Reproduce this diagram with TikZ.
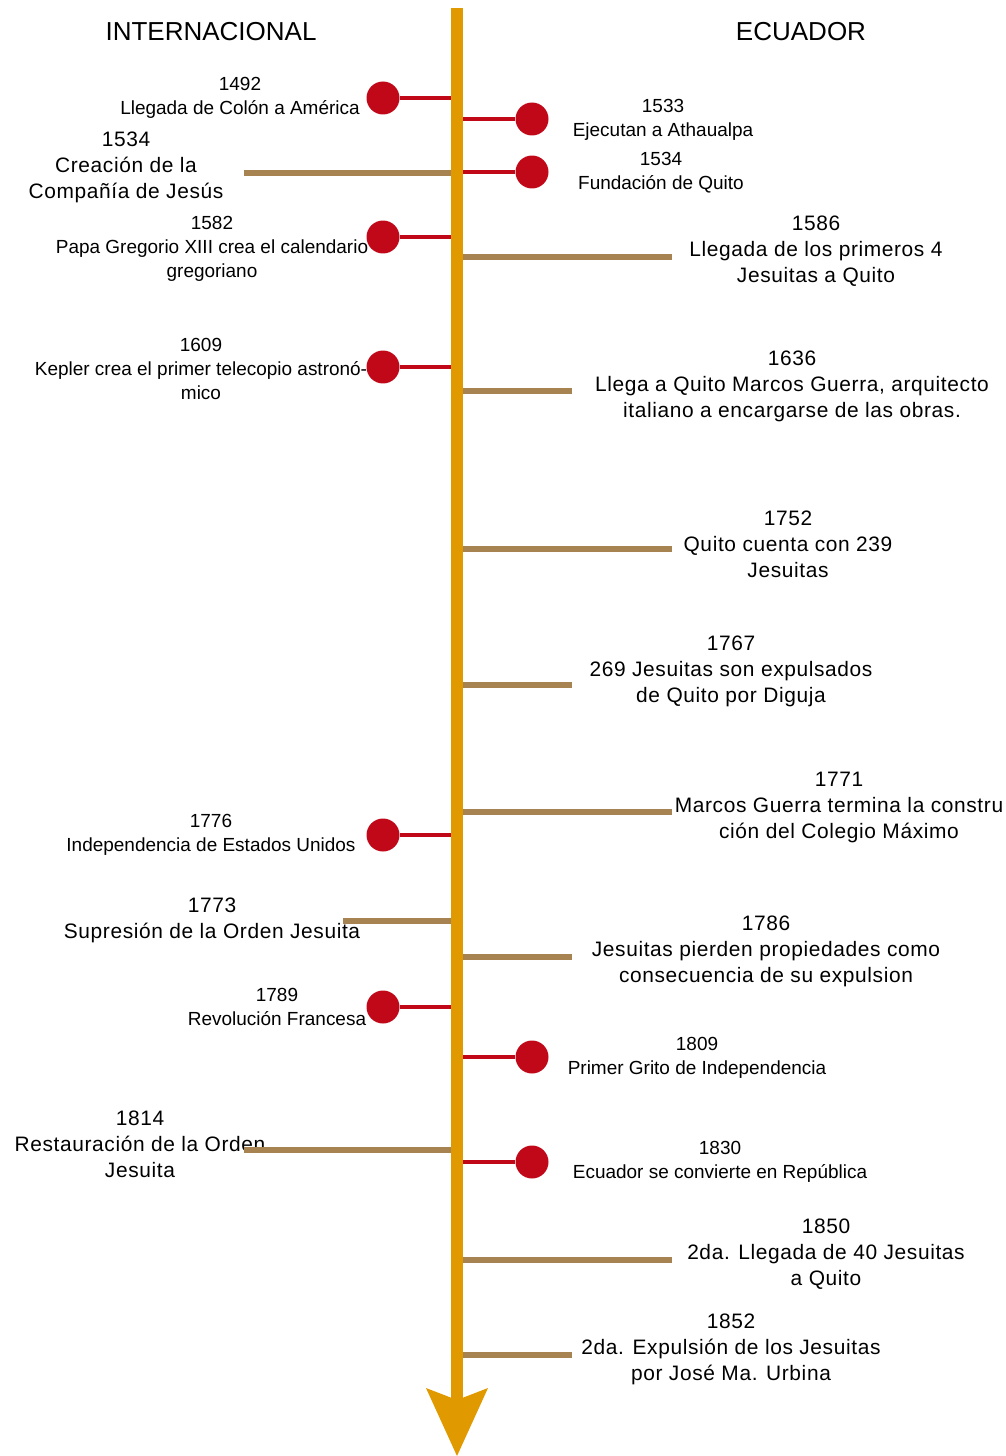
\documentclass[tikz,border=0pt]{standalone}
\usepackage{fontspec}
\setmainfont{Liberation Sans}
\newfontfamily\anchafont[LetterSpace=3]{Liberation Sans}
\usetikzlibrary{arrows.meta}
\definecolor{eje}{RGB}{224,154,0}
\definecolor{rojo}{RGB}{192,8,24}
\definecolor{cafe}{RGB}{166,131,80}

\begin{document}
\begin{tikzpicture}[x=0.02cm,y=-0.02cm,
		texto/.style={align=center,inner sep=0pt,yshift=-0.05cm,font=\fontsize{10.8}{13.7}\selectfont},
		textog/.style={align=center,inner sep=0pt,yshift=-0.05cm,font=\anchafont\fontsize{11.9}{14.8}\selectfont},
		titulo/.style={inner sep=0pt,font=\fontsize{14.8}{18}\selectfont},
		punto/.style={circle,fill=rojo,minimum size=0.66cm,inner sep=0pt},
		enlace/.style={draw=rojo,line width=2.3pt},
		barra/.style={draw=cafe,line width=3.6pt}]
	\useasboundingbox (0,0) rectangle (1006,1456);
	\node[titulo] (intl) at (211,32) {INTERNACIONAL};
	\node[titulo] (ecu) at (801,32) {ECUADOR};
	% internacional
	\node[texto] (t1492) at (240,95) {1492\\Llegada de Colón a América};
	\coordinate (e1492) at (457,98);
	\node[punto] (p1492) at (383,98) {};
	\draw[enlace] (e1492) -- (p1492);
	\node[textog] (t1534i) at (126,165) {1534\\Creación de la\\Compañía de Jesús};
	\coordinate (e1534i) at (457,173);
	\coordinate (f1534i) at (244,173);
	\draw[barra] (e1534i) -- (f1534i);
	\node[texto] (t1582) at (212,246.5) {1582\\Papa Gregorio XIII crea el calendario\\gregoriano};
	\coordinate (e1582) at (457,237);
	\node[punto] (p1582) at (383,237) {};
	\draw[enlace] (e1582) -- (p1582);
	\node[texto] (t1609) at (201,366.5) {1609\\Kepler crea el primer telecopio astronó-\\mico};
	\coordinate (e1609) at (457,367);
	\node[punto] (p1609) at (383,367) {};
	\draw[enlace] (e1609) -- (p1609);
	\node[texto] (t1776) at (211,832) {1776\\Independencia de Estados Unidos};
	\coordinate (e1776) at (457,835);
	\node[punto] (p1776) at (383,835) {};
	\draw[enlace] (e1776) -- (p1776);
	\node[textog] (t1773) at (212,917.5) {1773\\Supresión de la Orden Jesuita};
	\coordinate (e1773) at (457,921);
	\coordinate (f1773) at (343,921);
	\draw[barra] (e1773) -- (f1773);
	\node[texto] (t1789) at (277,1004) {1789\\Revolución Francesa};
	\coordinate (e1789) at (457,1007);
	\node[punto] (p1789) at (383,1007) {};
	\draw[enlace] (e1789) -- (p1789);
	\node[textog] (t1814) at (140,1142) {1814\\Restauración de la Orden\\Jesuita};
	\coordinate (e1814) at (457,1150);
	\coordinate (f1814) at (244,1150);
	\draw[barra] (e1814) -- (f1814);
	% ecuador
	\node[texto] (t1533) at (663,117) {1533\\Ejecutan a Athaualpa};
	\coordinate (e1533) at (457,119);
	\node[punto] (p1533) at (532,119) {};
	\draw[enlace] (e1533) -- (p1533);
	\node[texto] (t1534e) at (661,170) {1534\\Fundación de Quito};
	\coordinate (e1534e) at (457,172);
	\node[punto] (p1534e) at (532,172) {};
	\draw[enlace] (e1534e) -- (p1534e);
	\node[textog] (t1586) at (816,249) {1586\\Llegada de los primeros 4\\Jesuitas a Quito};
	\coordinate (e1586) at (457,257);
	\coordinate (f1586) at (672,257);
	\draw[barra] (e1586) -- (f1586);
	\node[textog] (t1636) at (792,383.5) {1636\\Llega a Quito Marcos Guerra, arquitecto\\italiano a encargarse de las obras.};
	\coordinate (e1636) at (457,391);
	\coordinate (f1636) at (572,391);
	\draw[barra] (e1636) -- (f1636);
	\node[textog] (t1752) at (788,542) {1752\\Quito cuenta con 239\\Jesuitas};
	\coordinate (e1752) at (457,549);
	\coordinate (f1752) at (672,549);
	\draw[barra] (e1752) -- (f1752);
	\node[textog] (t1767) at (731,669) {1767\\269 Jesuitas son expulsados\\de Quito por Diguja};
	\coordinate (e1767) at (457,685);
	\coordinate (f1767) at (572,685);
	\draw[barra] (e1767) -- (f1767);
	\node[textog] (t1771) at (839,805) {1771\\Marcos Guerra termina la constru\\ción del Colegio Máximo};
	\coordinate (e1771) at (457,812);
	\coordinate (f1771) at (672,812);
	\draw[barra] (e1771) -- (f1771);
	\node[textog] (t1786) at (766,949) {1786\\Jesuitas pierden propiedades como\\consecuencia de su expulsion};
	\coordinate (e1786) at (457,957);
	\coordinate (f1786) at (572,957);
	\draw[barra] (e1786) -- (f1786);
	\node[texto] (t1809) at (697,1055) {1809\\Primer Grito de Independencia};
	\coordinate (e1809) at (457,1057);
	\node[punto] (p1809) at (532,1057) {};
	\draw[enlace] (e1809) -- (p1809);
	\node[texto] (t1830) at (720,1159.5) {1830\\Ecuador se convierte en República};
	\coordinate (e1830) at (457,1162);
	\node[punto] (p1830) at (532,1162) {};
	\draw[enlace] (e1830) -- (p1830);
	\node[textog] (t1850) at (826,1252) {1850\\2da. Llegada de 40 Jesuitas\\a Quito};
	\coordinate (e1850) at (457,1260);
	\coordinate (f1850) at (672,1260);
	\draw[barra] (e1850) -- (f1850);
	\node[textog] (t1852) at (731,1347) {1852\\2da. Expulsión de los Jesuitas\\por José Ma. Urbina};
	\coordinate (e1852) at (457,1355);
	\coordinate (f1852) at (572,1355);
	\draw[barra] (e1852) -- (f1852);
	% eje
	\coordinate (inicio) at (457,8);
	\coordinate (fin) at (457,1456);
	\draw[eje,line width=6.8pt,-{Stealth[length=38.7pt,width=35.3pt,inset=6.8pt,line width=0pt]}] (inicio) -- (fin);
\end{tikzpicture}
\end{document}
